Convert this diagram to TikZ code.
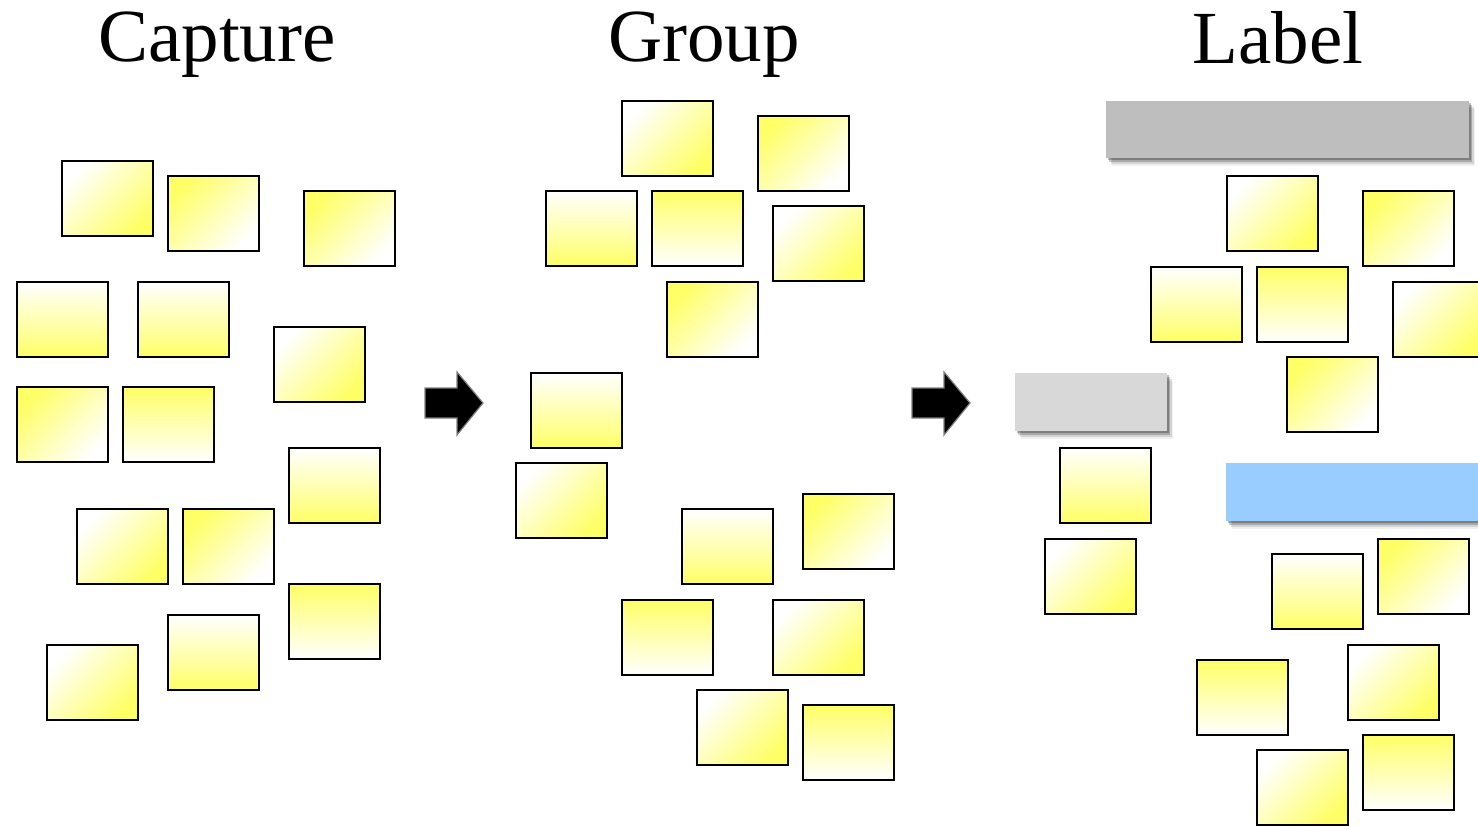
\documentclass[tikz,border=0pt]{standalone}
\usepackage{fontspec}
\setmainfont{Liberation Serif}
\usetikzlibrary{shadows}
\definecolor{noteyellow}{RGB}{255,255,102}
\definecolor{bardark}{RGB}{190,190,190}
\definecolor{barlight}{RGB}{216,216,216}
\definecolor{barblue}{RGB}{153,204,255}
\tikzset{
  note/.style={rectangle, draw=black, line width=1.8pt, anchor=north west,
    minimum width=91pt, minimum height=75pt, inner sep=0pt, outer sep=0pt},
  % four fill variants of the sticky notes
  ga/.style={note, top color=white, bottom color=noteyellow, shading angle=45},
  gb/.style={note, top color=noteyellow, bottom color=white, shading angle=45},
  gc/.style={note, top color=white, bottom color=noteyellow},
  gd/.style={note, top color=noteyellow, bottom color=white},
  % header bars with a soft shadow built from stacked offsets
  bar/.style={rectangle, anchor=north west, inner sep=0pt, outer sep=0pt,
    drop shadow={shadow xshift=1.5pt, shadow yshift=-2pt, opacity=.25, fill=black},
    drop shadow={shadow xshift=3pt, shadow yshift=-4pt, opacity=.2, fill=black},
    drop shadow={shadow xshift=4.5pt, shadow yshift=-6pt, opacity=.12, fill=black},
    drop shadow={shadow xshift=6pt, shadow yshift=-8pt, opacity=.06, fill=black}},
  title/.style={anchor=base, font=\fontsize{75}{80}\selectfont, inner sep=0pt},
  blockarrow/.style={fill=black, draw=gray, line width=1.2pt, line join=miter}
}
\begin{document}
\begin{tikzpicture}[x=1pt, y=-1pt]
\useasboundingbox (0,0) rectangle (1478,826);

% headings
\node[title] (tcap) at (217,62) {Capture};
\node[title] (tgrp) at (704,62) {Group};
\node[title] (tlab) at (1278,64) {Label};

% Capture: loose notes
\node[ga] (c1)  at (62,161)  {};
\node[gb] (c2)  at (168,176) {};
\node[gb] (c3)  at (304,191) {};
\node[gc] (c4)  at (17,282)  {};
\node[gc] (c5)  at (138,282) {};
\node[ga] (c6)  at (274,327) {};
\node[gb] (c7)  at (17,387)  {};
\node[gd] (c8)  at (123,387) {};
\node[gc] (c9)  at (289,448) {};
\node[ga] (c10) at (77,509)  {};
\node[gb] (c11) at (183,509) {};
\node[gd] (c12) at (289,584) {};
\node[gc] (c13) at (168,615) {};
\node[ga] (c14) at (47,645)  {};

% arrow Capture -> Group
\draw[blockarrow] (425,388) -- (457,388) -- (457,372) -- (483,403)
  -- (457,435) -- (457,418) -- (425,418) -- cycle;

% Group: clustered notes
\node[ga] (g1)  at (622,101) {};
\node[gb] (g2)  at (758,116) {};
\node[gc] (g3)  at (546,191) {};
\node[gd] (g4)  at (652,191) {};
\node[ga] (g5)  at (773,206) {};
\node[gb] (g6)  at (667,282) {};
\node[gc] (g7)  at (531,373) {};
\node[ga] (g8)  at (516,463) {};
\node[gb] (g9)  at (803,494) {};
\node[gc] (g10) at (682,509) {};
\node[gd] (g11) at (622,600) {};
\node[ga] (g12) at (773,600) {};
\node[ga] (g13) at (697,690) {};
\node[gd] (g14) at (803,705) {};

% arrow Group -> Label
\draw[blockarrow] (912,388) -- (944,388) -- (944,372) -- (970,403)
  -- (944,435) -- (944,418) -- (912,418) -- cycle;

% Label: header bars
\node[bar, fill=bardark, minimum width=363pt, minimum height=57pt] (h1) at (1106,101) {};
\node[bar, fill=barlight, minimum width=152pt, minimum height=58pt] (h2) at (1015,373) {};
\node[bar, fill=barblue, minimum width=270pt, minimum height=58pt] (h3) at (1226,463) {};

% Label: grouped notes
\node[ga] (l1)  at (1227,176) {};
\node[gb] (l2)  at (1363,191) {};
\node[gc] (l3)  at (1151,267) {};
\node[gd] (l4)  at (1257,267) {};
\node[ga] (l5)  at (1393,282) {};
\node[gb] (l6)  at (1287,357) {};
\node[gc] (l7)  at (1060,448) {};
\node[ga] (l8)  at (1045,539) {};
\node[gc] (l9)  at (1272,554) {};
\node[gb] (l10) at (1378,539) {};
\node[gd] (l11) at (1197,660) {};
\node[ga] (l12) at (1348,645) {};
\node[ga] (l13) at (1257,750) {};
\node[gd] (l14) at (1363,735) {};
\end{tikzpicture}
\end{document}
